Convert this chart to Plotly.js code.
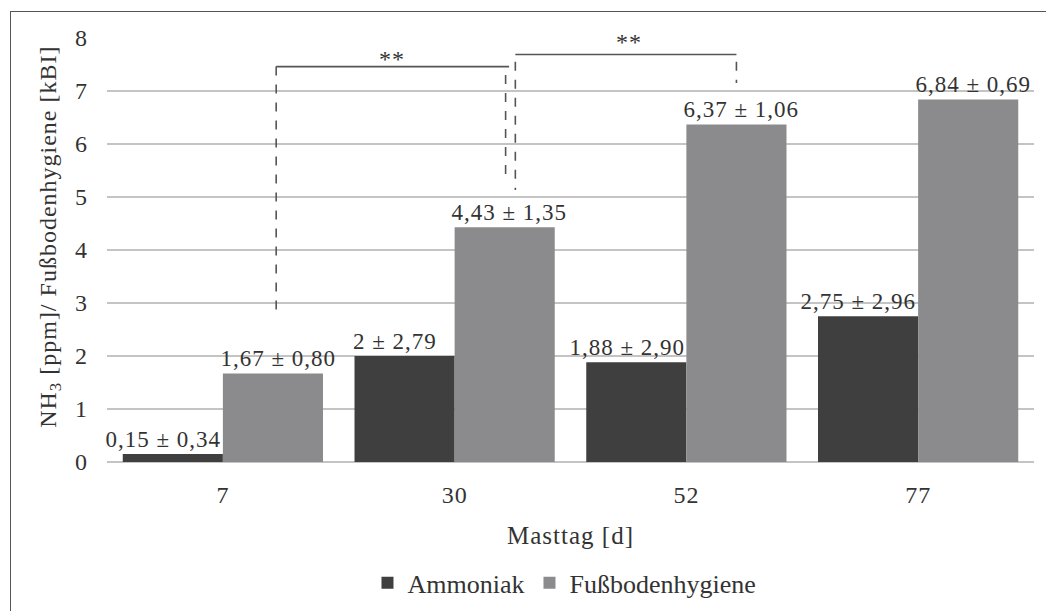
<!DOCTYPE html>
<html>
<head>
<meta charset="utf-8">
<script src="https://cdn.plot.ly/plotly-3.0.1.min.js"></script>
<style>
html,body{margin:0;padding:0;background:#fff;}
#wrap{position:relative;width:1046px;height:611px;overflow:hidden;}
#chart{width:1046px;height:611px;}
#chart svg .annotation text, #chart svg .xtick text, #chart svg .ytick text, #chart svg .xtitle{letter-spacing:1px;}
#frame{position:absolute;left:10px;top:11px;width:1100px;height:700px;border-left:1.5px solid #555;border-top:1.5px solid #555;pointer-events:none;}
</style>
</head>
<body>
<div id="wrap"><div id="chart"></div><div id="frame"></div></div>
<script>
const categories = ["7", "30", "52", "77"];
const ammoniak = [0.15, 2, 1.88, 2.75];
const ammoniakLabels = ["0,15 ± 0,34", "2 ± 2,79", "1,88 ± 2,90", "2,75 ± 2,96"];
const hygiene = [1.67, 4.43, 6.37, 6.84];
const hygieneLabels = ["1,67 ± 0,80", "4,43 ± 1,35", "6,37 ± 1,06", "6,84 ± 0,69"];
const yTicks = [0, 1, 2, 3, 4, 5, 6, 7, 8];

const pos = categories.map((c, i) => i);
const FONT = "Liberation Serif";
const TXT = "#333333";

const traces = [
  {
    type: "bar", name: "Ammoniak", x: pos, y: ammoniak,
    marker: {color: "#3f3f40"}, hoverinfo: "y"
  },
  {
    type: "bar", name: "Fußbodenhygiene", x: pos, y: hygiene,
    marker: {color: "#8b8b8d"}, hoverinfo: "y"
  }
];

const dash = {color: "#555", width: 1.6, dash: "dash"};
const solid = {color: "#555", width: 1.6};
const shapes = [
  {type: "line", xref: "x", yref: "y", x0: 0.23, x1: 1.235, y0: 7.46, y1: 7.46, line: solid},
  {type: "line", xref: "x", yref: "y", x0: 0.23, x1: 0.23, y0: 7.46, y1: 2.87, line: dash},
  {type: "line", xref: "x", yref: "y", x0: 1.22, x1: 1.22, y0: 7.3, y1: 5.28, line: dash},
  {type: "line", xref: "x", yref: "y", x0: 1.262, x1: 2.216, y0: 7.69, y1: 7.69, line: solid},
  {type: "line", xref: "x", yref: "y", x0: 1.262, x1: 1.262, y0: 7.55, y1: 5.13, line: dash},
  {type: "line", xref: "x", yref: "y", x0: 2.216, x1: 2.216, y0: 7.55, y1: 7.15, line: dash}
];

const half = 0.217;
const labelFont = {family: FONT, size: 23, color: TXT};
const annotations = [
  {x: 0.731, y: 7.6, xref: "x", yref: "y", text: "**", showarrow: false,
   font: {family: FONT, size: 24, color: TXT}, yanchor: "middle"},
  {x: 1.751, y: 7.92, xref: "x", yref: "y", text: "**", showarrow: false,
   font: {family: FONT, size: 24, color: TXT}, yanchor: "middle"},
  {x: -0.0615, y: 0.531, xref: "paper", yref: "paper", text: "NH<sub>3</sub> [ppm]/ Fußbodenhygiene [kBI]",
   textangle: -90, showarrow: false, xanchor: "center", yanchor: "middle",
   font: {family: FONT, size: 24, color: TXT}}
];
pos.forEach((p, i) => {
  annotations.push({x: p - half, y: ammoniak[i], xref: "x", yref: "y", text: ammoniakLabels[i],
    showarrow: false, yanchor: "bottom", xanchor: "center", xshift: -9, yshift: 0, font: labelFont});
  annotations.push({x: p + half, y: hygiene[i], xref: "x", yref: "y", text: hygieneLabels[i],
    showarrow: false, yanchor: "bottom", xanchor: "center", xshift: 5, yshift: 0, font: labelFont});
});

const layout = {
  width: 1046, height: 611,
  margin: {l: 107, r: 12, t: 38, b: 149, autoexpand: false},
  paper_bgcolor: "#fff", plot_bgcolor: "#fff",
  font: {family: FONT, size: 23, color: TXT},
  barmode: "group", bargap: 0.136, bargroupgap: 0,
  showlegend: true,
  legend: {orientation: "h", x: 0.281, xanchor: "left", y: -0.285, yanchor: "middle",
           font: {family: FONT, size: 26, color: TXT}, itemwidth: 30, traceorder: "normal"},
  xaxis: {
    type: "linear", range: [-0.5, 3.5], tickvals: pos, ticktext: categories,
    showgrid: false, zeroline: false, showline: false, ticks: "",
    ticklabelstandoff: 16, automargin: false,
    tickfont: {family: FONT, size: 24, color: TXT},
    title: {text: "Masttag [d]", font: {family: FONT, size: 25, color: TXT}, standoff: 19}
  },
  yaxis: {
    range: [0, 8], tickvals: yTicks, ticktext: yTicks.map(String),
    showgrid: true, gridcolor: "#c4c4c4", gridwidth: 1.6,
    zeroline: true, zerolinecolor: "#c4c4c4", zerolinewidth: 1.6,
    showline: false, ticks: "", ticklabelstandoff: 18, automargin: false,
    tickfont: {family: FONT, size: 24, color: TXT}
  },
  shapes: shapes,
  annotations: annotations
};

Plotly.newPlot("chart", traces, layout, {displayModeBar: false, staticPlot: true});
</script>
</body>
</html>
